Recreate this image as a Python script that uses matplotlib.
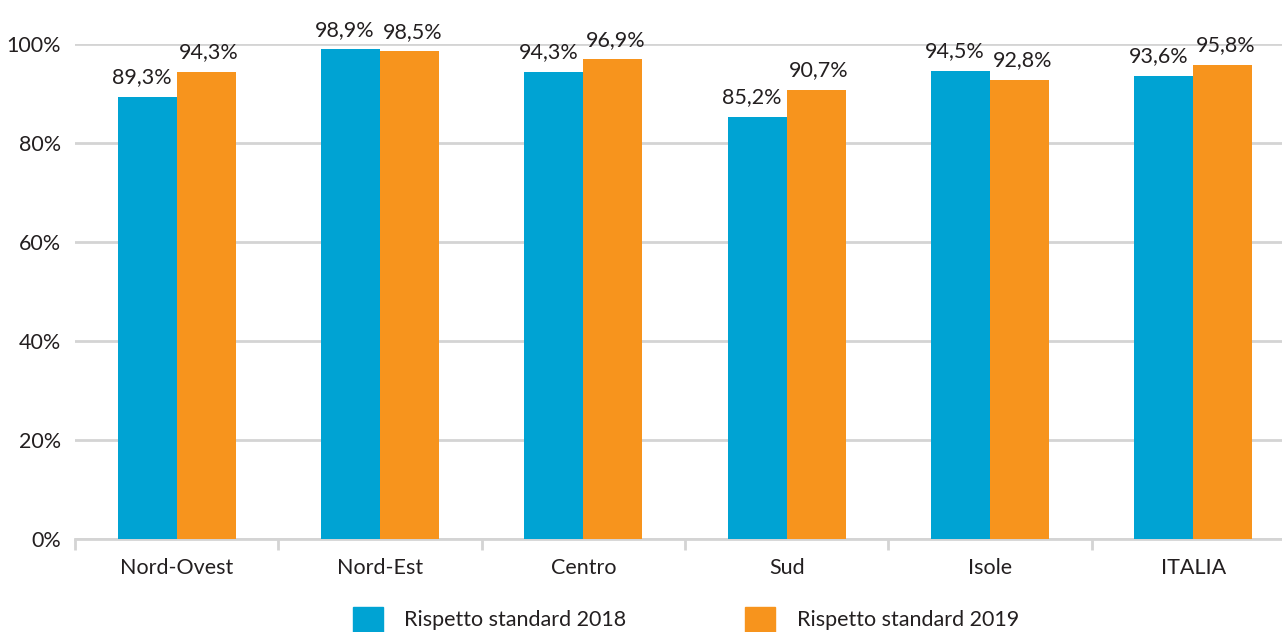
import numpy as np
import matplotlib.pyplot as plt
from matplotlib.patches import Patch

regioni = ["Nord-Ovest", "Nord-Est", "Centro", "Sud", "Isole", "ITALIA"]
rispetto_2018 = [89.3, 98.9, 94.3, 85.2, 94.5, 93.6]
rispetto_2019 = [94.3, 98.5, 96.9, 90.7, 92.8, 95.8]
y_ticks = [0, 20, 40, 60, 80, 100]

blu = "#00A3D3"
arancio = "#F7941D"
testo = "#231F20"
griglia = "#D4D4D4"

plt.rcParams["font.family"] = ["Lato", "DejaVu Sans"]

fig = plt.figure(figsize=(12.82, 6.32), dpi=100)
# l'asse prosegue oltre il bordo destro come nell'originale
ax = fig.add_axes([75 / 1282, 1 - 539 / 632, 1220 / 1282, 495 / 632])

x = np.arange(len(regioni))
w = 0.29
b1 = ax.bar(x - w / 2, rispetto_2018, w, color=blu, zorder=3)
b2 = ax.bar(x + w / 2, rispetto_2019, w, color=arancio, zorder=3)

def fmt(v):
    return f"{v:.1f}%".replace(".", ",")

# etichette leggermente allontanate tra loro
for rects, vals, dx in [(b1, rispetto_2018, -4), (b2, rispetto_2019, 2)]:
    for r, v in zip(rects, vals):
        ax.annotate(fmt(v), (r.get_x() + r.get_width() / 2, r.get_height()),
                    xytext=(dx, 7), textcoords="offset points",
                    ha="center", va="bottom", fontsize=15.5, color=testo)

ax.set_xlim(-0.5, len(regioni) - 0.5)
ax.set_ylim(0, 100)
ax.set_yticks(y_ticks)
ax.set_yticklabels([f"{t}%" for t in y_ticks], fontsize=15.5, color=testo)
ax.yaxis.grid(True, color=griglia, linewidth=2, zorder=0)
ax.tick_params(axis="y", length=0, pad=10)

ax.set_xticks(x)
ax.set_xticklabels(regioni, fontsize=15.5, color=testo)
ax.set_xticks(np.arange(len(regioni)) - 0.5, minor=True)
ax.tick_params(axis="x", which="major", length=0, pad=14)
ax.tick_params(axis="x", which="minor", length=8, width=2, color=griglia)

for s in ["top", "right", "left"]:
    ax.spines[s].set_visible(False)
ax.spines["bottom"].set_color(griglia)
ax.spines["bottom"].set_linewidth(2)

handles = [Patch(color=blu, label="Rispetto standard 2018"),
           Patch(color=arancio, label="Rispetto standard 2019")]
fig.legend(handles=handles, loc="lower center", bbox_to_anchor=(0.535, -0.03),
           ncol=2, frameon=False, fontsize=15.5, handlelength=1.4, handleheight=1.4,
           columnspacing=5.5, handletextpad=1.0, labelcolor=testo)

fig.savefig("out.png", dpi=100)
